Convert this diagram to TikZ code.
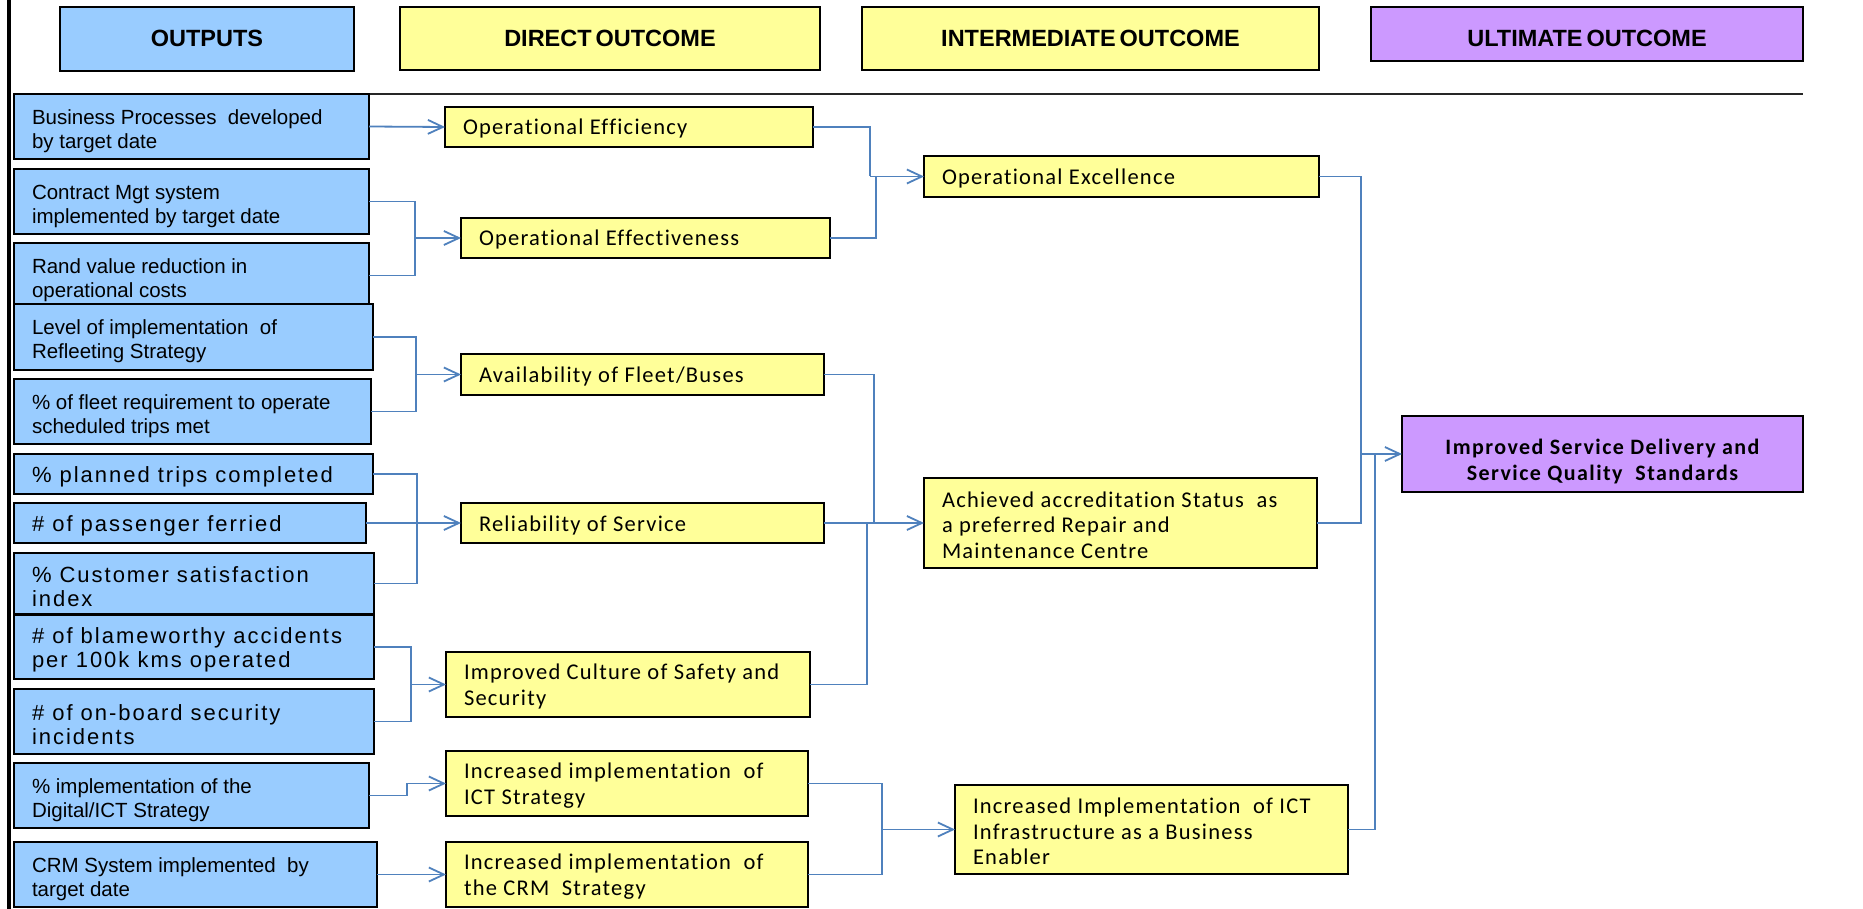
\documentclass[tikz,border=0pt]{standalone}
\usepackage{fontspec}
\setmainfont{Liberation Sans}
\newfontfamily\arialsp[LetterSpace=9]{Liberation Sans}
\newfontfamily\calibrisp[LetterSpace=5.5, Ligatures=NoCommon]{Carlito}
\newfontfamily\calibriwide[LetterSpace=6.5, Ligatures=NoCommon]{Carlito}
\newfontfamily\headsans[WordSpace=0.6]{Liberation Sans}
\usetikzlibrary{arrows.meta}

\definecolor{outblue}{RGB}{153,204,255}
\definecolor{outyellow}{RGB}{255,255,153}
\definecolor{ultpurple}{RGB}{204,153,255}
\definecolor{linkblue}{RGB}{79,129,189}

\tikzset{
  boxbase/.style={draw=black, line width=2pt, inner sep=0pt, outer sep=0pt},
  obox/.style={boxbase, fill=outblue},
  ybox/.style={boxbase, fill=outyellow},
  pbox/.style={boxbase, fill=ultpurple},
  txtbase/.style={inner sep=0pt, outer sep=0pt, align=left, text=black},
  otext/.style={txtbase, font=\fontsize{20.5}{24}\selectfont, yshift=-4.5pt},
  wtext/.style={txtbase, font=\arialsp\fontsize{22}{24.5}\selectfont, yshift=-3pt},
  ytext/.style={txtbase, font=\calibrisp\fontsize{22.5}{25.5}\selectfont, yshift=-2pt},
  htext/.style={txtbase, align=center, font=\headsans\bfseries\fontsize{23.5}{28}\selectfont},
  utext/.style={txtbase, align=center, font=\calibriwide\bfseries\fontsize{22}{25.5}\selectfont},
  link/.style={draw=linkblue, line width=1.8pt},
  linkarrow/.style={link, -{Straight Barb[length=15pt,width=14pt]}},
}

% box with left-aligned text: box style, text style, name, x1, y1, x2, y2, text
\newcommand\flowbox[8]{%
  \node[#1, minimum width={(#6)-(#4)}, minimum height={(#7)-(#5)}, anchor=north west] (#3) at (#4,#5) {};
  \node[#2, anchor=west] (#3-t) at ([xshift=18pt]#3.west) {#8};%
}
% column heading: box style, name, x1, y1, x2, y2, text
\newcommand\headbox[7]{%
  \node[#1, minimum width={(#5)-(#3)}, minimum height={(#6)-(#4)}, anchor=north west] (#2) at (#3,#4) {};
  \node[htext] (#2-t) at ({((#3)+(#5))/2}, 38.5) {#7};%
}

\begin{document}
\begin{tikzpicture}[x=1pt, y=-1pt]
\useasboundingbox (0,0) rectangle (1863,909);
\fill[white] (0,0) rectangle (1863,909);

% left margin bar and rule under the headings
\fill[black] (6.5,0) rectangle (10.5,909);
\draw[line width=2pt, draw=black!85] (13,94) -- (1803,94);

% column headings
\headbox{obox}{H1}{60}{7}{354}{71}{OUTPUTS}
\headbox{ybox}{H2}{400}{7}{820}{70}{DIRECT OUTCOME}
\headbox{ybox}{H3}{862}{7}{1319}{70}{INTERMEDIATE OUTCOME}
\headbox{pbox}{H4}{1371}{7}{1803}{61}{ULTIMATE OUTCOME}

% outputs
\flowbox{obox}{otext}{B1}{14}{94}{369}{159}{Business Processes\ \ developed\\by target date}
\flowbox{obox}{otext}{B2}{14}{169}{369}{234}{Contract Mgt system\\implemented by target date}
\flowbox{obox}{otext}{B3}{14}{243}{369}{308}{Rand value reduction in\\operational costs}
\flowbox{obox}{otext}{B4}{14}{304}{373}{370}{Level of implementation\ \ of\\Refleeting Strategy}
\flowbox{obox}{otext}{B5}{14}{379}{371}{444}{\% of fleet requirement to operate\\scheduled trips met}
\flowbox{obox}{wtext}{B6}{14}{454}{373}{494}{\% planned trips completed}
\flowbox{obox}{wtext}{B7}{14}{503}{366}{543}{\# of passenger ferried}
\flowbox{obox}{wtext}{B8}{14}{553}{374}{614}{\% Customer satisfaction\\index}
\flowbox{obox}{wtext}{B9}{14}{615}{374}{679}{\# of blameworthy accidents\\per 100k kms operated}
\flowbox{obox}{wtext}{B10}{14}{689}{374}{754}{\# of on-board security\\incidents}
\flowbox{obox}{otext}{B11}{14}{763}{369}{828}{\% implementation of the\\Digital/ICT Strategy}
\flowbox{obox}{otext}{B12}{14}{842}{377}{907}{CRM System implemented\ \ by\\target date}

% direct outcomes
\flowbox{ybox}{ytext}{D1}{445}{107}{813}{147}{Operational Efficiency}
\flowbox{ybox}{ytext}{D2}{461}{218}{830}{258}{Operational Effectiveness}
\flowbox{ybox}{ytext}{D3}{461}{354}{824}{395}{Availability of Fleet/Buses}
\flowbox{ybox}{ytext}{D4}{461}{503}{824}{543}{Reliability of Service}
\flowbox{ybox}{ytext}{D5}{446}{652}{810}{717}{Improved Culture of Safety and\\Security}
\flowbox{ybox}{ytext}{D6}{446}{751}{808}{816}{Increased implementation\ \ of\\ICT Strategy}
\flowbox{ybox}{ytext}{D7}{446}{842}{808}{907}{Increased implementation\ \ of\\the CRM\ \ Strategy}

% intermediate outcomes
\flowbox{ybox}{ytext}{I1}{924}{156}{1319}{197}{Operational Excellence}
\flowbox{ybox}{ytext}{I2}{924}{478}{1317}{568}{Achieved accreditation Status\ \ as\\a preferred Repair and\\Maintenance Centre}
\flowbox{ybox}{ytext}{I3}{955}{785}{1348}{874}{Increased Implementation\ \ of ICT\\Infrastructure as a Business\\Enabler}

% ultimate outcome
\node[pbox, minimum width=401, minimum height=76, anchor=north west] (U1) at (1402,416) {};
\node[utext, yshift=-7.5pt] (U1-t) at (U1.center) {Improved Service Delivery and\\Service Quality\ \ Standards};

% junction points of the connectors
\coordinate (jD2) at (415,238);
\coordinate (jI1a) at (870,176.5);
\coordinate (jI1b) at (876,176.5);
\coordinate (jD3) at (416,374.5);
\coordinate (jD4) at (417,523);
\coordinate (jD5) at (411,684.5);
\coordinate (kD6) at (407,783.5);
\coordinate (jI2a) at (874,523);
\coordinate (jI2b) at (867,523);
\coordinate (jI3) at (882,829.5);
\coordinate (jUa) at (1361,454);
\coordinate (jUb) at (1375,454);

% outputs to direct outcomes
\draw[linkarrow] (B1.east) -- (D1.west);
\draw[link] (B2.east) -| (jD2);
\draw[link] (B3.east) -| (jD2);
\draw[linkarrow] (jD2) -- (D2.west);
\draw[link] (B4.east) -| (jD3);
\draw[link] (B5.east) -| (jD3);
\draw[linkarrow] (jD3) -- (D3.west);
\draw[link] (B6.east) -| (jD4);
\draw[link] (B8.east) -| (jD4);
\draw[linkarrow] (B7.east) -- (D4.west);
\draw[link] (B9.east) -| (jD5);
\draw[link] (B10.east) -| (jD5);
\draw[linkarrow] (jD5) -- (D5.west);
\draw[linkarrow] (B11.east) -| (kD6) -- (D6.west);
\draw[linkarrow] (B12.east) -- (D7.west);

% direct to intermediate outcomes
\draw[link] (D1.east) -| (jI1a);
\draw[link] (D2.east) -| (jI1b);
\draw[linkarrow] (jI1a) -- (I1.west);
\draw[link] (D3.east) -| (jI2a);
\draw[link] (D5.east) -| (jI2b);
\draw[linkarrow] (D4.east) -- (I2.west);
\draw[link] (D6.east) -| (jI3);
\draw[link] (D7.east) -| (jI3);
\draw[linkarrow] (jI3) -- (I3.west);

% intermediate to ultimate outcome
\draw[link] (I1.east) -| (jUa);
\draw[link] (I2.east) -| (jUa);
\draw[link] (I3.east) -| (jUb);
\draw[linkarrow] (jUa) -- (U1.west);
\end{tikzpicture}
\end{document}
